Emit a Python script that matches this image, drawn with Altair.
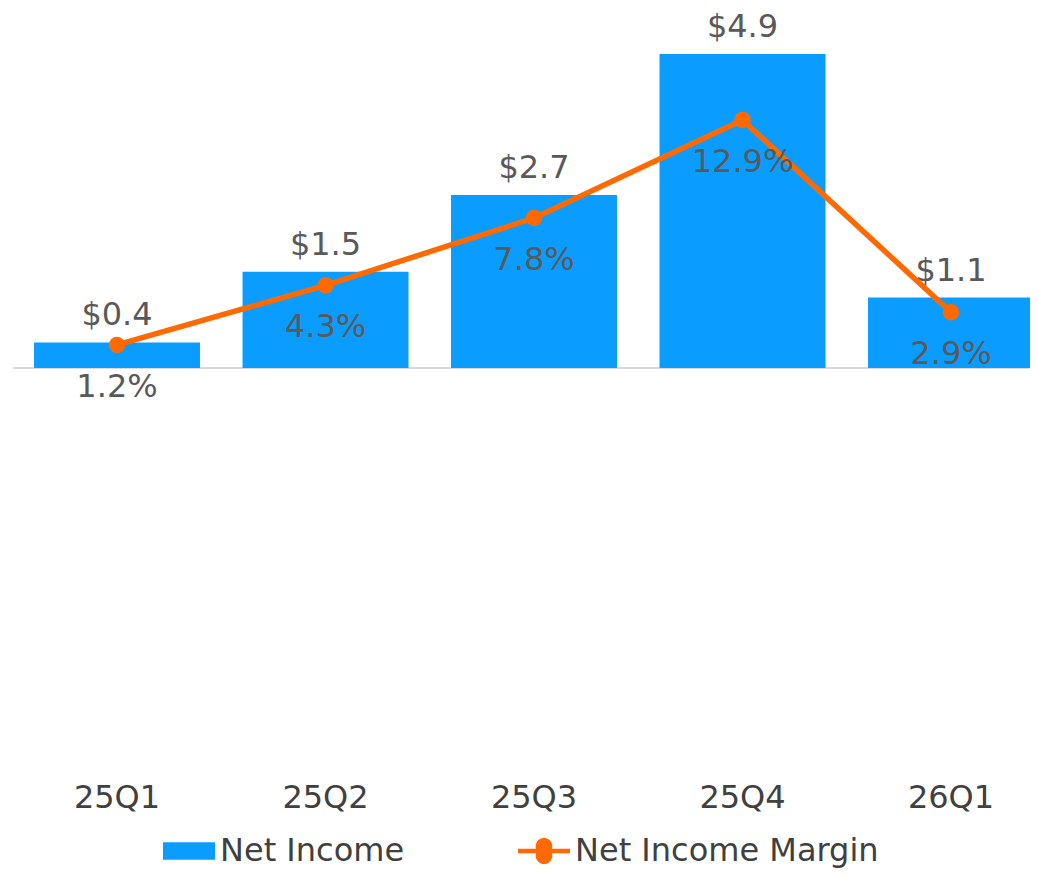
import altair as alt
import pandas as pd

quarters = ["25Q1", "25Q2", "25Q3", "25Q4", "26Q1"]
net_income = [0.4, 1.5, 2.7, 4.9, 1.1]
net_margin = [1.2, 4.3, 7.8, 12.9, 2.9]
series_names = ["Net Income", "Net Income Margin"]

BLUE = "#0A9DFF"
ORANGE = "#FF6A00"
FONT = "DejaVu Sans"

df = pd.DataFrame({"quarter": quarters, "income": net_income, "margin": net_margin})

x_enc = alt.X(
    "quarter:N",
    sort=quarters,
    scale=alt.Scale(range=[0, 1025], paddingInner=0.204, paddingOuter=0.06, align=0.84),
    axis=alt.Axis(title=None, labelAngle=0, domain=False, ticks=False, tickSize=0, grid=False,
                  labelFontSize=32, labelColor="#404040", labelFont=FONT, labelPadding=12),
)

line_path = ("M-1,-0.09L-0.307,-0.09A0.32,0.32 0 1,1 0.307,-0.09L1,-0.09L1,0.09"
             "L0.307,0.09A0.32,0.32 0 1,1 -0.307,0.09L-1,0.09Z")
rect_path = "M-1,-0.34L1,-0.34L1,0.34L-1,0.34Z"


def make_legend(x, path):
    return alt.Legend(
        title=None, orient="none", legendX=x, legendY=812,
        labelFontSize=32, labelColor="#404040", labelFont=FONT, symbolSize=2704,
        labelOffset=5, labelLimit=500, padding=0, symbolStrokeWidth=0, symbolOpacity=1,
        symbolType=path,
    )


y_inc = alt.Y("income:Q", scale=alt.Scale(domain=[-6.27, 5.538], nice=False, zero=False), axis=None)
y_mar = alt.Y("margin:Q", scale=alt.Scale(domain=[-20.9, 18.46], nice=False, zero=False), axis=None)

base = alt.Chart(df)

rule = alt.Chart(pd.DataFrame({"income": [0]})).mark_rule(color="#D9D9D9", strokeWidth=2).encode(y=y_inc)

bars = base.transform_calculate(series="'" + series_names[0] + "'").mark_bar().encode(
    x=x_enc, y=y_inc,
    fill=alt.Fill("series:N", scale=alt.Scale(domain=[series_names[0]], range=[BLUE]),
                  legend=make_legend(150, rect_path)),
)

bar_labels = base.transform_calculate(lbl="'$' + format(datum.income, '.1f')").mark_text(
    dy=-27, fontSize=32, font=FONT, color="#595959", baseline="middle"
).encode(x=x_enc, y=y_inc, text="lbl:N")

bar_layer = alt.layer(rule, bars, bar_labels)

line = base.mark_line(strokeWidth=5.5, color=ORANGE).encode(x=x_enc, y=y_mar)

points = base.transform_calculate(series="'" + series_names[1] + "'").mark_circle(
    size=270, opacity=1
).encode(
    x=x_enc, y=y_mar,
    fill=alt.Fill("series:N", scale=alt.Scale(domain=[series_names[1]], range=[ORANGE]),
                  legend=make_legend(505, line_path)),
)

pct_labels = base.transform_calculate(lbl="format(datum.margin, '.1f') + '%'").mark_text(
    dy=42, fontSize=32, font=FONT, color="#595959", baseline="middle"
).encode(x=x_enc, y=y_mar, text="lbl:N")

line_layer = alt.layer(line, points, pct_labels)

chart = alt.layer(bar_layer, line_layer).resolve_scale(
    y="independent", fill="independent"
).properties(
    width=1017, height=757,
    autosize=alt.AutoSizeParams(type="none"),
    padding={"left": 5, "top": 5, "right": 0, "bottom": 100},
).configure(font=FONT).configure_view(stroke="transparent", strokeWidth=0)

chart.save("out.html", embed_options={"renderer": "svg", "actions": False})
